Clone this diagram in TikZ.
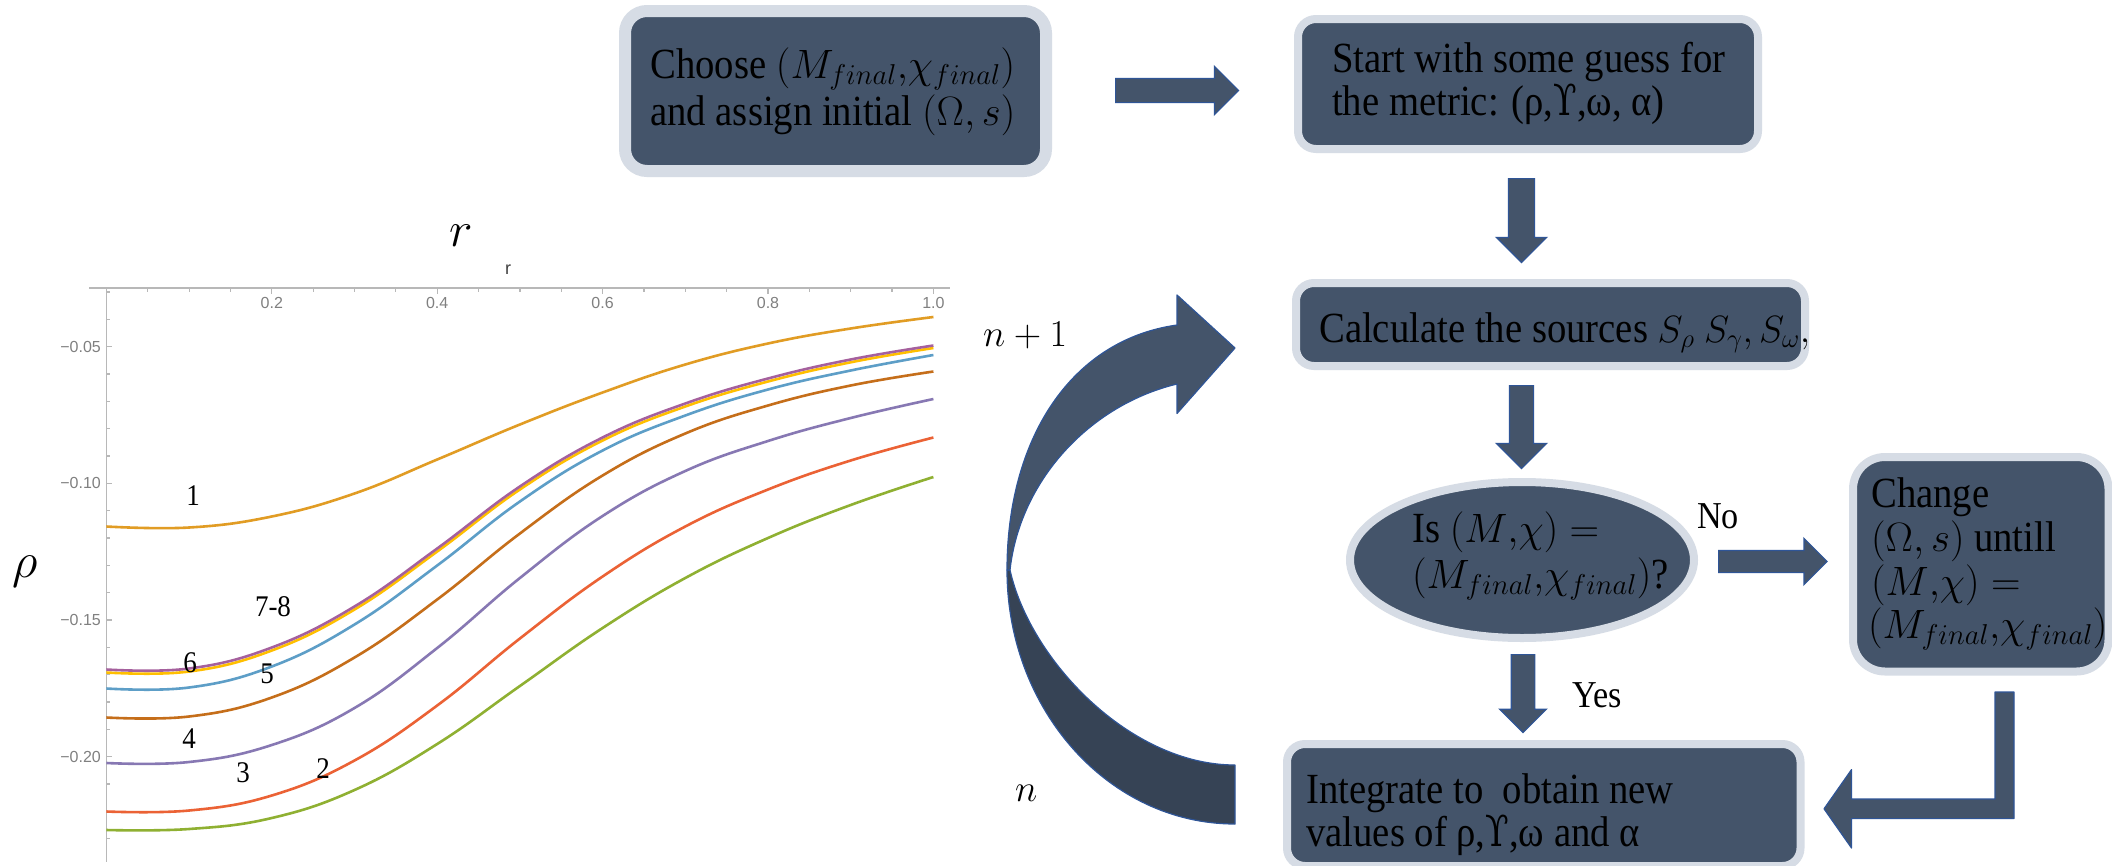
\RequirePackage{fix-cm}
\documentclass[tikz,border=0pt]{standalone}
\usepackage[no-math]{fontspec}
\setmainfont{Liberation Serif}[FakeStretch=0.9]
\newfontfamily\axisfont{Liberation Sans}
\newfontfamily\upsfont{DejaVu Serif}[FakeStretch=0.8]
\usetikzlibrary{shapes.geometric,shapes.arrows}
\newcommand\mth[1]{{\fontsize{41}{45}\selectfont$#1$}}
\newcommand\mths[1]{{\fontsize{38}{42}\selectfont$#1$}}
\definecolor{boxfill}{HTML}{44546A}
\definecolor{boxedge}{HTML}{D6DCE5}
\definecolor{arrowedge}{HTML}{2F5597}
\definecolor{backfill}{HTML}{364355}
\definecolor{cA}{HTML}{E19C24}
\definecolor{cB}{HTML}{8FB032}
\definecolor{cC}{HTML}{EB6235}
\definecolor{cD}{HTML}{8778B3}
\definecolor{cE}{HTML}{C56E1A}
\definecolor{cF}{HTML}{5D9EC7}
\definecolor{cG}{HTML}{FFBF00}
\definecolor{cH}{HTML}{A5609D}
\definecolor{axisgray}{HTML}{B8B8B8}
\definecolor{ticktext}{HTML}{808080}
\tikzset{
  box/.style={rectangle, fill=boxfill, draw=boxedge, line width=8pt, inner sep=0pt, rounded corners=18pt},
  txt/.style={anchor=base west, inner sep=0pt, font=\fontsize{43}{47}\selectfont},
  smalltxt/.style={anchor=base west, inner sep=0pt, font=\fontsize{38}{42}\selectfont},
  numlbl/.style={inner sep=0pt, font=\fontsize{30}{34}\selectfont},
  ticklbl/.style={inner sep=0pt, text=ticktext, font=\axisfont\fontsize{16}{18}\selectfont},
  axisline/.style={draw=axisgray, line width=1.2pt},
  curve/.style={line width=2.6pt, line join=round},
  barrow/.style n args={3}{single arrow, draw=arrowedge, fill=boxfill, line width=1.2pt,
     inner sep=0pt, text width=0pt, text height=#1, text depth=#1,
     single arrow head extend=#2, minimum height=#3, anchor=tail},
  shapefill/.style={draw=arrowedge, line width=1.2pt, line join=round}
}
\begin{document}
\begin{tikzpicture}[x=1pt,y=-1pt]
\useasboundingbox (0,0) rectangle (2112,865);
\fill[white] (0,0) rectangle (2112,865);

% ---------------- plot ----------------
\draw[axisline] (89,288) -- (950,288);
\draw[axisline] (106.4,288) -- (106.4,862);
\foreach \j in {1,...,20}{
  \pgfmathsetmacro\tl{mod(\j,4)==0 ? 6 : 3.5}
  \draw[axisline] ({106.4+\j*41.35},288) -- ++(0,\tl);
}
\foreach \i in {3,...,23}{
  \pgfmathsetmacro\tl{mod(\i,5)==0 ? 6 : 3.5}
  \draw[axisline] (106.4,{346.7+(\i-5)*27.33}) -- ++(\tl,0);
}
\node[ticklbl] (x02) at (271.8,303) {0.2};
\node[ticklbl] (x04) at (437.2,303) {0.4};
\node[ticklbl] (x06) at (602.6,303) {0.6};
\node[ticklbl] (x08) at (768.0,303) {0.8};
\node[ticklbl] (x10) at (933.4,303) {1.0};
\node[ticklbl, anchor=east] (y05) at (101,346.7) {−0.05};
\node[ticklbl, anchor=east] (y10) at (101,483.4) {−0.10};
\node[ticklbl, anchor=east] (y15) at (101,620.0) {−0.15};
\node[ticklbl, anchor=east] (y20) at (101,756.7) {−0.20};
\node[inner sep=0pt, text=black!75, font=\axisfont\fontsize{18}{20}\selectfont] (rsmall) at (508,270) {r};
\node[inner sep=0pt, font=\fontsize{50}{55}\selectfont] (rbig) at (461,236) {$r$};
\node[inner sep=0pt, font=\fontsize{50}{55}\selectfont] (rho) at (25,572) {$\rho$};

\draw[curve, cB] plot[smooth, tension=0.7] coordinates {(106.4,830) (189.1,829) (271.8,818) (354.5,790) (437.2,744) (519.9,686) (602.6,628) (685.3,578) (768,538) (850.7,505) (933.4,477)};
\draw[curve, cC] plot[smooth, tension=0.7] coordinates {(106.4,811.5) (189.1,810.5) (271.8,795.5) (354.5,760.5) (437.2,705.5) (519.9,638.5) (602.6,576.5) (685.3,526.5) (768,489.5) (850.7,460.5) (933.4,437.5)};
\draw[curve, cD] plot[smooth, tension=0.7] coordinates {(106.4,763) (189.1,762) (271.8,745) (354.5,708) (437.2,648) (519.9,578) (602.6,516) (685.3,471) (768,441) (850.7,418) (933.4,399)};
\draw[curve, cE] plot[smooth, tension=0.7] coordinates {(106.4,717.5) (189.1,716.5) (271.8,697.5) (354.5,657.5) (437.2,599.5) (519.9,533.5) (602.6,475.5) (685.3,433.5) (768,405.5) (850.7,385.5) (933.4,371.5)};
\draw[curve, cF] plot[smooth, tension=0.7] coordinates {(106.4,688.5) (189.1,687.5) (271.8,666.5) (354.5,624.5) (437.2,565.5) (519.9,501.5) (602.6,450.5) (685.3,415.5) (768,389.5) (850.7,370.5) (933.4,355)};
\draw[curve, cG] plot[smooth, tension=0.7] coordinates {(106.4,672.5) (189.1,671.5) (271.8,650.5) (354.5,609.5) (437.2,551.5) (519.9,489.5) (602.6,440.5) (685.3,406.5) (768,381.5) (850.7,362.3) (933.4,348)};
\draw[curve, cH] plot[smooth, tension=0.7] coordinates {(106.4,669.5) (189.1,668.5) (271.8,647.5) (354.5,606.5) (437.2,548.5) (519.9,486.5) (602.6,437.5) (685.3,403.5) (768,378.5) (850.7,359.5) (933.4,345.5)};
\draw[curve, cA] plot[smooth, tension=0.7] coordinates {(106.4,526.5) (189.1,527.5) (271.8,516.5) (354.5,493.5) (437.2,459.5) (519.9,424.5) (602.6,392.5) (685.3,364.5) (768,343.5) (850.7,328.5) (933.4,317)};

\node[numlbl] (l1) at (193,496) {1};
\node[numlbl] (l78) at (273,607) {7-8};
\node[numlbl] (l6) at (190,663) {6};
\node[numlbl] (l5) at (267,674) {5};
\node[numlbl] (l4) at (189,739) {4};
\node[numlbl] (l3) at (243,773) {3};
\node[numlbl] (l2) at (323,769) {2};

% ---------------- flowchart ----------------
\node[box, line width=12pt, rounded corners=22pt, minimum width=421pt, minimum height=160pt] (choose) at (835.5,91) {};
\node[box, minimum width=460pt, minimum height=130pt] (guess) at (1528,84) {};
\node[box, minimum width=509pt, minimum height=83pt] (sources) at (1550.5,324.5) {};
\node[ellipse, fill=boxfill, draw=boxedge, line width=8pt, inner sep=0pt, minimum width=344pt, minimum height=156pt] (check) at (1522,560) {};
\node[box, rounded corners=32pt, minimum width=255.5pt, minimum height=214.5pt] (change) at (1980.75,564.25) {};
\node[box, minimum width=513.5pt, minimum height=122pt] (integ) at (1543.75,805) {};

\node[txt] (t1a) at (650,78) {Choose \mth{(M_{final}{,}\chi_{final})}};
\node[txt] (t1b) at (650,125) {and assign initial \mth{(\Omega, s)}};
\node[txt] (t2a) at (1332,72) {Start with some guess for};
\node[txt] (t2b) at (1332,115) {the metric: (ρ,{\upsfont ϒ},ω, α)};
\node[txt] (t3) at (1319,342) {Calculate the sources \mths{S_\rho}~\mths{S_\gamma{,}\,S_\omega{,}}};
\node[txt] (te1) at (1412,542) {Is \mth{(M{,}\chi) =}};
\node[txt] (te2) at (1412,588) {\mth{(M_{final}{,}\chi_{final})}?};
\node[txt] (tc1) at (1871,507) {Change};
\node[txt] (tc2) at (1871,551) {\mth{(\Omega, s)} untill};
\node[txt] (tc3) at (1871,595) {\mth{(M{,}\chi) =}};
\node[txt] (tc4) at (1868,638) {\mth{(M_{final}{,}\chi_{final})}};
\node[txt] (ti1) at (1306,803) {Integrate to\ \ obtain new};
\node[txt] (ti2) at (1306,846) {values of ρ,{\upsfont ϒ},ω and α};

% straight block arrows
\node[barrow={11.5pt}{12pt}{123pt}] (a1) at (1115,90.5) {};
\node[barrow={12.5pt}{12pt}{84pt}, rotate=-90] (a2) at (1521.5,178) {};
\node[barrow={11.5pt}{13pt}{83pt}, rotate=-90] (a3) at (1521.5,385) {};
\node[barrow={10.5pt}{12pt}{108.5pt}] (a4) at (1718,561.5) {};
\node[barrow={11.25pt}{11.5pt}{78pt}, rotate=-90] (a5) at (1523,654) {};

\node[smalltxt] (no) at (1697,528) {No};
\node[smalltxt] (yes) at (1572,707) {Yes};

% bent arrow from change to integrate
\coordinate (bstart) at (2004.5,692);
\coordinate (btip) at (1824,808.8);
\filldraw[fill=boxfill, shapefill] (1995,692) -- (2014,692) -- (2014,818.6) -- (1851.5,818.6) -- (1851.5,848) -- (btip) -- (1851.5,769.6) -- (1851.5,799) -- (1995,799) -- cycle;

% curved loop arrow from integrate back to sources
\coordinate (loopL) at (1007,570);
\coordinate (looptip) at (1235,348);
\filldraw[fill=backfill, shapefill] (loopL) arc[start angle=180, end angle=90, x radius=228, y radius=254] -- (1235,765) .. controls (1130,765) and (1030,660) .. (1010,570) -- cycle;
\filldraw[fill=boxfill, shapefill] (loopL) .. controls (1007,440) and (1070,340) .. (1177,325) -- (1177,295) -- (looptip) -- (1177,413.5) -- (1177,384) .. controls (1090,405) and (1020,480) .. (1010,570) -- cycle;

\node[smalltxt] (np1) at (983,346) {$n+1$};
\node[smalltxt] (nn) at (1015,801) {$n$};
\end{tikzpicture}
\end{document}
